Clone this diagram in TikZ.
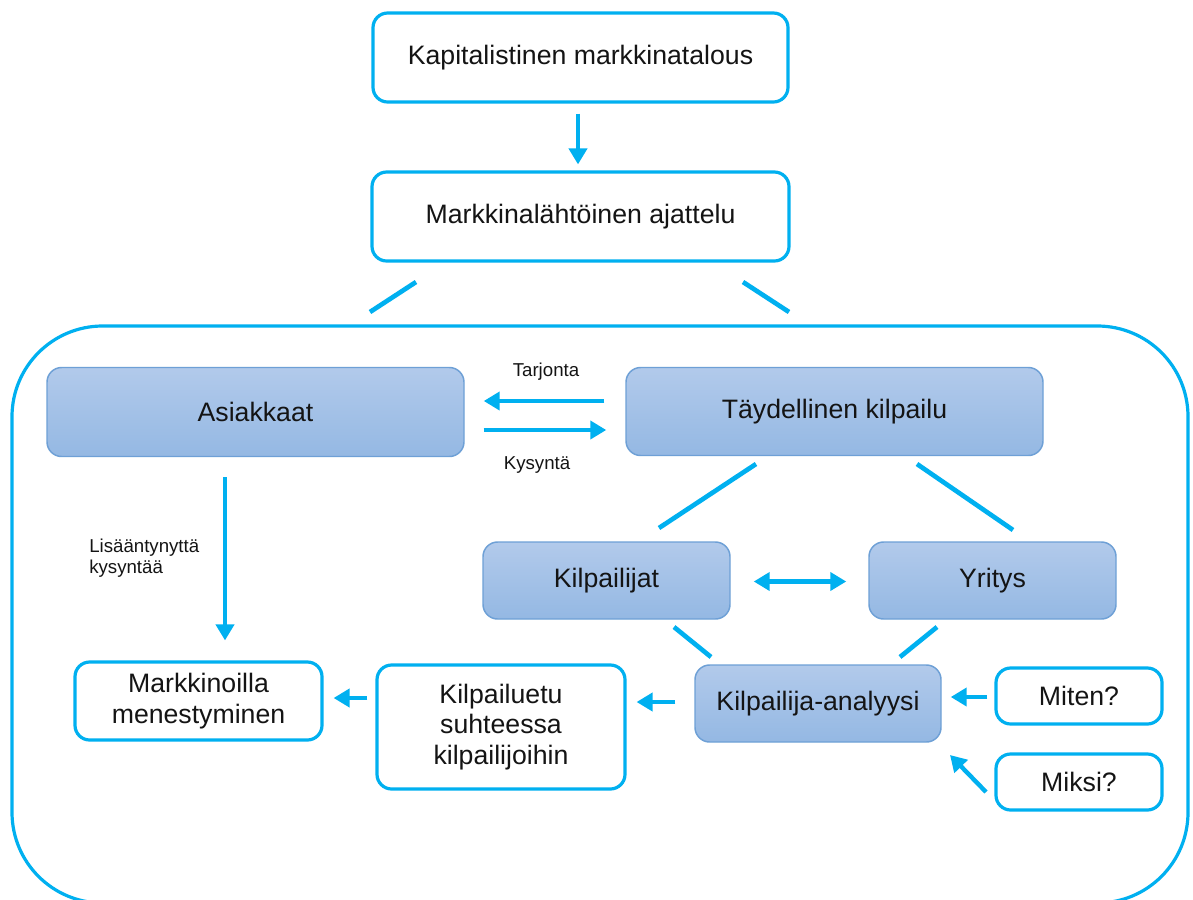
\documentclass[tikz,border=0pt]{standalone}
\usepackage{fontspec}
\setmainfont{Liberation Sans}
\usetikzlibrary{arrows.meta,calc}
\definecolor{cy}{RGB}{0,176,240}
\definecolor{gtop}{RGB}{178,202,235}
\definecolor{gbot}{RGB}{148,184,227}
\definecolor{gbrd}{RGB}{110,160,214}
\definecolor{txt}{RGB}{20,20,20}
\begin{document}
\begin{tikzpicture}[x=0.75pt,y=-0.75pt,
  cybox/.style={draw=cy,line width=2.4pt,fill=white,rounded corners=11pt,align=center,
    font=\fontsize{20}{23}\selectfont,text=txt,inner sep=0pt},
  gbox/.style={draw=gbrd,line width=1.1pt,top color=gtop,bottom color=gbot,rounded corners=11pt,
    align=center,font=\fontsize{20}{23}\selectfont,text=txt,inner sep=0pt},
  arr/.style={draw=cy,line width=3.3pt,-{Triangle[width=13.5pt,length=12pt]}},
  darr/.style={draw=cy,line width=3.3pt,{Triangle[width=13.5pt,length=12pt]}-{Triangle[width=13.5pt,length=12pt]}},
  seg/.style={draw=cy,line width=3.5pt},
  small/.style={font=\fontsize{14}{16}\selectfont,text=txt,inner sep=0pt,align=left}]
\useasboundingbox (0,0) rectangle (1193,900);
\fill[white] (0,0) rectangle (1193,900);
% frame
\draw[cy,line width=2.4pt,rounded corners=68pt] (12,326) rectangle (1188,903);
% nodes
\node[cybox,minimum width=415*0.75pt,minimum height=89*0.75pt] (kap) at (580.5,57.5) {Kapitalistinen markkinatalous};
\node[cybox,minimum width=417*0.75pt,minimum height=89*0.75pt] (mark) at (580.5,216.5) {Markkinalähtöinen ajattelu};
\node[gbox,minimum width=417*0.75pt,minimum height=89*0.75pt] (asi) at (255.5,412) {Asiakkaat};
\node[gbox,minimum width=417*0.75pt,minimum height=88*0.75pt] (tay) at (834.5,411.5) {Täydellinen kilpailu};
\node[gbox,minimum width=247*0.75pt,minimum height=77*0.75pt] (kil) at (606.5,580.5) {Kilpailijat};
\node[gbox,minimum width=247*0.75pt,minimum height=77*0.75pt] (yri) at (992.5,580.5) {Yritys};
\node[gbox,minimum width=246*0.75pt,minimum height=77*0.75pt] (ana) at (818,703.5) {Kilpailija-analyysi};
\node[cybox,minimum width=166*0.75pt,minimum height=56*0.75pt] (mit) at (1079,696) {Miten?};
\node[cybox,minimum width=166*0.75pt,minimum height=56*0.75pt] (mik) at (1079,782) {Miksi?};
\node[cybox,minimum width=248*0.75pt,minimum height=124*0.75pt] (etu) at (501,727) {Kilpailuetu\\suhteessa\\kilpailijoihin};
\node[cybox,minimum width=247*0.75pt,minimum height=78*0.75pt] (men) at (198.5,701) {Markkinoilla\\menestyminen};
% labels
\node[small] (tarj) at (546,372) {Tarjonta};
\node[small] (kys) at (537,465) {Kysyntä};
\node[small,anchor=west,font=\fontsize{14}{15.5}\selectfont] (lis) at (89,558) {Lisääntynyttä\\kysyntää};
% coordinates for free ends
\coordinate (m1) at (416,282); \coordinate (m2) at (370,312);
\coordinate (m3) at (743,282); \coordinate (m4) at (789,312);
\coordinate (t1) at (756,464); \coordinate (t2) at (659,528);
\coordinate (t3) at (917,464); \coordinate (t4) at (1013,530);
\coordinate (k1) at (674,627); \coordinate (k2) at (711,657);
\coordinate (y1) at (937,627); \coordinate (y2) at (900,657);
\coordinate (ms1) at (986,792); \coordinate (ms2) at (950,755);
% connectors
\draw[arr] (kap.south) ++(-2.5,10) coordinate (ka) -- (ka |- mark.north) [shorten >=4.5pt];
\draw[seg] (m1) -- (m2);
\draw[seg] (m3) -- (m4);
\draw[arr] ($(tay.west)+(-21,-10.5)$) -- ($(asi.east)+(19,-11)$);
\draw[arr] ($(asi.east)+(19,18)$) -- ($(tay.west)+(-19,18.5)$);
\draw[arr] ($(asi.south)+(-30.5,20)$) -- ($(men.north)+(26.5,-20)$);
\draw[seg] (t1) -- (t2);
\draw[seg] (t3) -- (t4);
\draw[darr] ($(kil.east)+(23,1)$) -- ($(yri.west)+(-22,1)$);
\draw[seg] (k1) -- (k2);
\draw[seg] (y1) -- (y2);
\draw[arr] ($(mit.west)+(-7,1)$) -- ($(ana.east)+(9,-6.5)$);
\draw[arr] (ms1) -- (ms2);
\draw[arr] ($(ana.west)+(-19,-1.5)$) -- ($(etu.east)+(10,-25)$);
\draw[arr] ($(etu.west)+(-8,-29)$) -- ($(men.east)+(10,-3)$);
\end{tikzpicture}
\end{document}
